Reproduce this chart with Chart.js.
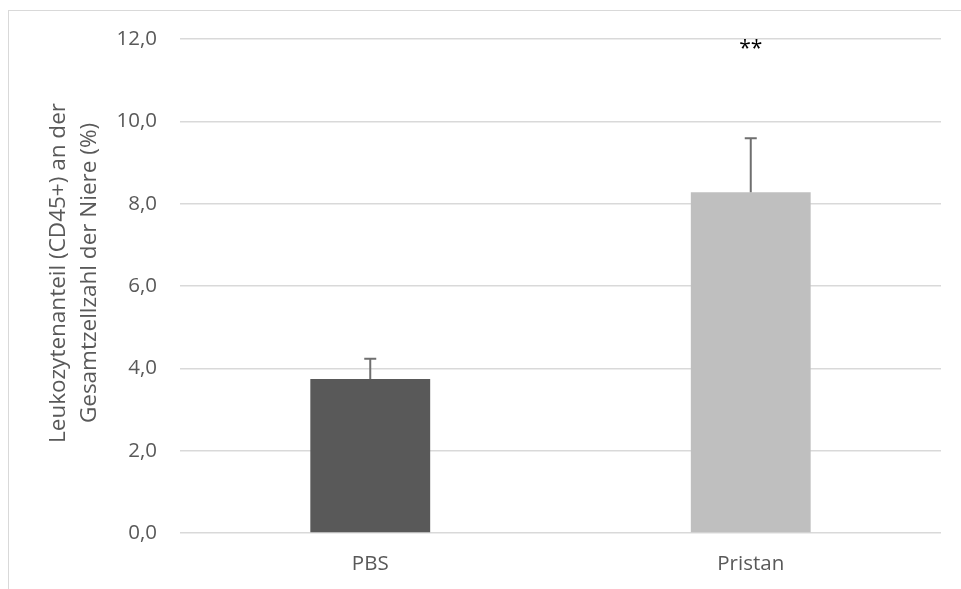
<!DOCTYPE html>
<html>
<head>
<meta charset="utf-8">
<script src="https://cdn.jsdelivr.net/npm/chart.js@4.4.1/dist/chart.umd.min.js"></script>
<style>
  html, body { margin: 0; padding: 0; background: #ffffff; }
  #wrap { width: 961px; height: 589px; position: relative; }
</style>
</head>
<body>
<div id="wrap"><canvas id="c" width="961" height="589"></canvas></div>
<script>
// Groups and measured leukocyte share (%)
const categories = ['PBS', 'Pristan'];
const meanValues = [3.74, 8.28];
const errorValues = [0.49, 1.31];
const significance = ['', '**'];
const barColors = ['#595959', '#bfbfbf'];
const yTicks = [0, 2, 4, 6, 8, 10, 12];
const yTitleLines = ['Leukozytenanteil (CD45+) an der', 'Gesamtzellzahl der Niere (%)'];

const FONT = "'Open Sans', sans-serif";

// Light frame around the chart
const framePlugin = {
  id: 'frame',
  beforeDraw(chart) {
    const ctx = chart.ctx;
    ctx.save();
    ctx.fillStyle = '#ffffff';
    ctx.fillRect(0, 0, chart.width, chart.height);
    ctx.strokeStyle = '#d9d9d9';
    ctx.lineWidth = 1;
    ctx.strokeRect(8.5, 10.5, 1200, 1200);
    ctx.restore();
  }
};

// Upper error whiskers and significance markers
const errorBarPlugin = {
  id: 'errorBars',
  afterDatasetsDraw(chart) {
    const ctx = chart.ctx;
    const meta = chart.getDatasetMeta(0);
    const yScale = chart.scales.y;
    ctx.save();
    ctx.strokeStyle = '#6f6f6f';
    ctx.lineWidth = 2;
    meta.data.forEach((bar, i) => {
      const x = bar.x;
      const yTop = yScale.getPixelForValue(meanValues[i] + errorValues[i]);
      const yBase = yScale.getPixelForValue(meanValues[i]);
      ctx.beginPath();
      ctx.moveTo(x, yBase);
      ctx.lineTo(x, yTop);
      ctx.moveTo(x - 6, yTop);
      ctx.lineTo(x + 6, yTop);
      ctx.stroke();
      if (significance[i]) {
        ctx.fillStyle = '#000000';
        ctx.font = '21px ' + FONT;
        ctx.textAlign = 'center';
        ctx.textBaseline = 'middle';
        ctx.fillText(significance[i], x, yScale.getPixelForValue(11.75));
      }
    });
    ctx.restore();
  }
};

// Two-line rotated y-axis title
const yTitlePlugin = {
  id: 'yTitle',
  afterDraw(chart) {
    const ctx = chart.ctx;
    ctx.save();
    ctx.fillStyle = '#595959';
    ctx.font = '22.5px ' + FONT;
    ctx.textAlign = 'center';
    ctx.textBaseline = 'middle';
    ctx.translate(0, 273);
    ctx.rotate(-Math.PI / 2);
    ctx.fillText(yTitleLines[0], 0, 59);
    ctx.fillText(yTitleLines[1], 0, 90);
    ctx.restore();
  }
};

new Chart(document.getElementById('c'), {
  type: 'bar',
  data: {
    labels: categories,
    datasets: [{
      data: meanValues,
      backgroundColor: barColors,
      borderWidth: 0,
      categoryPercentage: 1,
      barPercentage: 0.315
    }]
  },
  options: {
    responsive: false,
    animation: false,
    events: [],
    layout: { padding: { top: 39, right: 20, left: 0, bottom: 0 } },
    plugins: { legend: { display: false }, tooltip: { enabled: false } },
    scales: {
      x: {
        grid: { display: false },
        border: { display: false },
        ticks: { color: '#595959', font: { family: FONT, size: 20.5 }, padding: 11 },
        afterFit(scale) { scale.height = 56; }
      },
      y: {
        min: 0,
        max: 12,
        afterBuildTicks(scale) { scale.ticks = yTicks.map(v => ({ value: v })); },
        grid: { color: '#d9d9d9', lineWidth: 1.5, drawTicks: false },
        border: { display: false },
        ticks: {
          color: '#595959',
          font: { family: FONT, size: 20.5 },
          padding: 23,
          callback: v => v.toFixed(1).replace('.', ',')
        },
        afterFit(scale) { scale.width = 180; }
      }
    }
  },
  plugins: [framePlugin, errorBarPlugin, yTitlePlugin]
});
</script>
</body>
</html>
